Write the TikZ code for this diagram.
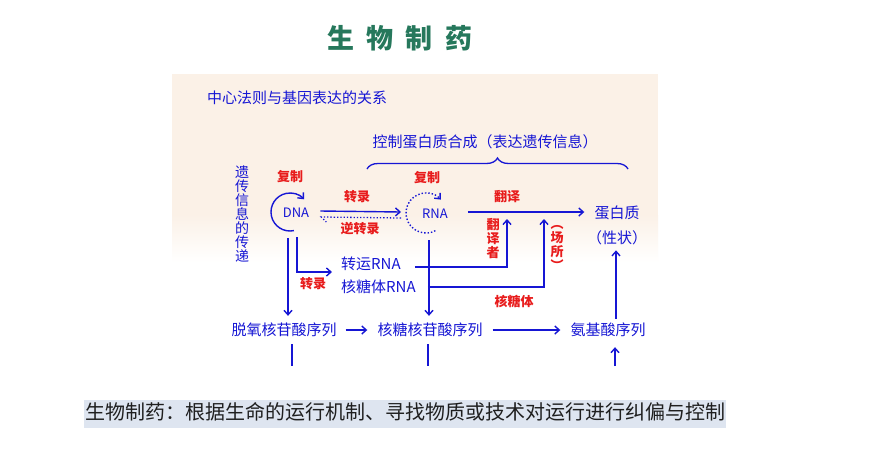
\documentclass[tikz,border=0pt]{standalone}
\usepackage{fontspec}
\newfontfamily\cjk{Noto Sans CJK SC}
\usetikzlibrary{arrows.meta, positioning, decorations.pathreplacing}
\definecolor{titlegreen}{RGB}{38,120,92}
\definecolor{flowblue}{RGB}{22,22,212}
\definecolor{labelred}{RGB}{232,28,28}
\definecolor{panelpeach}{RGB}{251,241,231}
\definecolor{notegray}{RGB}{222,229,240}
\tikzset{
	titletext/.style={font=\cjk\bfseries\fontsize{27}{27}\selectfont, text=titlegreen, inner sep=0pt}
}
\tikzset{
	bluetext/.style={font=\cjk\fontsize{15}{15}\selectfont, text=flowblue, inner sep=0pt},
	redtext/.style={font=\cjk\bfseries\fontsize{13}{13}\selectfont, text=labelred, inner sep=0pt},
	vtext/.style={align=center, font=\cjk\bfseries\fontsize{13}{14}\selectfont},
	notetext/.style={font=\cjk\fontsize{20}{20}\selectfont, text=black!88}
}
\tikzset{
	flow/.style={draw=flowblue, line width=1.4pt, -{Straight Barb[length=4.5pt, width=8pt]}},
	wire/.style={draw=flowblue, line width=1.4pt}
}

\begin{document}
\begin{tikzpicture}[x=1pt, y=-1pt]
	\useasboundingbox (0,0) rectangle (878,456);
	\fill[white] (0,0) rectangle (878,456);
	\fill[panelpeach] (172,74) rectangle (658,215);
	\shade[top color=panelpeach, bottom color=white] (172,215) rectangle (658,262);
	\foreach \c/\x [count=\i] in {生/341, 物/380, 制/419, 药/459}
		\node[titletext] (title\i) at (\x,38) {\c};

	\node[bluetext] (dogma) at (297,98) {中心法则与基因表达的关系};
	\node[bluetext] (express) at (485,142) {控制蛋白质合成（表达遗传信息）};
	\draw[flowblue, line width=1.3pt, decorate, decoration={brace, amplitude=11pt}] (367,169) -- (628,169);
	\node[bluetext, vtext, font=\cjk\fontsize{14}{14}\selectfont] (transfer) at (242,214) {遗\\传\\信\\息\\的\\传\\递};

	\coordinate (dnaloop) at (290,212);
	\coordinate (rnaloop) at (426,213);
	\node[bluetext, font=\cjk\fontsize{13}{13}\selectfont] (dna) at (296,213) {DNA};
	\node[bluetext, font=\cjk\fontsize{13}{13}\selectfont] (rna) at (435,214) {RNA};
	\node[bluetext] (prot) at (617,213) {蛋白质};
	\node[bluetext] (trait) at (617,238) {（性状）};
	\node[bluetext, anchor=west] (trna) at (341,264) {转运RNA};
	\node[bluetext, anchor=west] (rrna) at (341,287) {核糖体RNA};
	\node[bluetext] (deoxy) at (284,330) {脱氧核苷酸序列};
	\node[bluetext] (ribo) at (430,330) {核糖核苷酸序列};
	\node[bluetext] (amino) at (608,330) {氨基酸序列};

	\node[redtext] (repdna) at (290,177) {复制};
	\node[redtext] (reprna) at (427,178) {复制};
	\node[redtext] (tx) at (357,197) {转录};
	\node[redtext] (rtx) at (360,229) {逆转录};
	\node[redtext] (tl) at (507,197) {翻译};
	\node[redtext, vtext] (tlr) at (493,239) {翻\\译\\者};
	\node[redtext, vtext] (site) at (557,248) {︵\\场\\所\\︶};
	\node[redtext] (tx2) at (313,284) {转录};
	\node[redtext] (ribosome) at (514,301) {核糖体};

	\draw[flow] ([shift={(-78:19pt)}]dnaloop) arc[start angle=-78, end angle=-318, radius=19pt];
	\draw[flow, dotted] ([shift={(-62:20pt)}]rnaloop) arc[start angle=-62, end angle=-318, radius=20pt];
	\draw[flow] ([shift={(11pt,2pt)}]dna.east) -- ([shift={(-21pt,2pt)}]rna.west);
	\draw[flowblue, line width=1.3pt, dotted] ([shift={(-21pt,-4pt)}]rna.west) -- ([shift={(12pt,-4pt)}]dna.east) -- ++(5,5);
	\draw[flow] ([shift={(20pt,2pt)}]rna.east) -- ([shift={(-10pt,1pt)}]prot.west);

	\coordinate (tlpoint) at (507,219);
	\coordinate (sitepoint) at (544,219);
	\draw[flow] ([shift={(14pt,-3pt)}]trna.east) -| (tlpoint);
	\draw[flow] ([xshift=12pt]rrna.east) -| (sitepoint);
	\draw[flow] ([shift={(-2,26)}]dnaloop) -- ([shift={(4pt,7pt)}]deoxy.north);
	\draw[flow] ([shift={(7,25)}]dnaloop) |- ([shift={(-9pt,-8pt)}]trna.west);
	\draw[flow] ([shift={(3,27)}]rnaloop) -- ([shift={(-1pt,7pt)}]ribo.north);

	\draw[flow] ([xshift=9pt]deoxy.east) -- ([xshift=-10pt]ribo.west);
	\draw[flow] ([xshift=10pt]ribo.east) -- ([xshift=-10pt]amino.west);
	\draw[flow] ([shift={(8pt,4pt)}]amino.north) -- ([shift={(-1pt,-5pt)}]trait.south);
	\draw[wire] ([shift={(8pt,-7pt)}]deoxy.south) -- ++(0,22);
	\draw[wire] ([shift={(-2pt,-7pt)}]ribo.south) -- ++(0,22);
	\draw[flow] ([shift={(7pt,-29pt)}]amino.south) -- ([shift={(7pt,-10pt)}]amino.south);

	\node[notetext, fill=notegray, inner xsep=1pt, inner ysep=4pt, text height=15pt, text depth=5pt] (note) at (405,414) {生物制药：根据生命的运行机制、寻找物质或技术对运行进行纠偏与控制};
\end{tikzpicture}
\end{document}
